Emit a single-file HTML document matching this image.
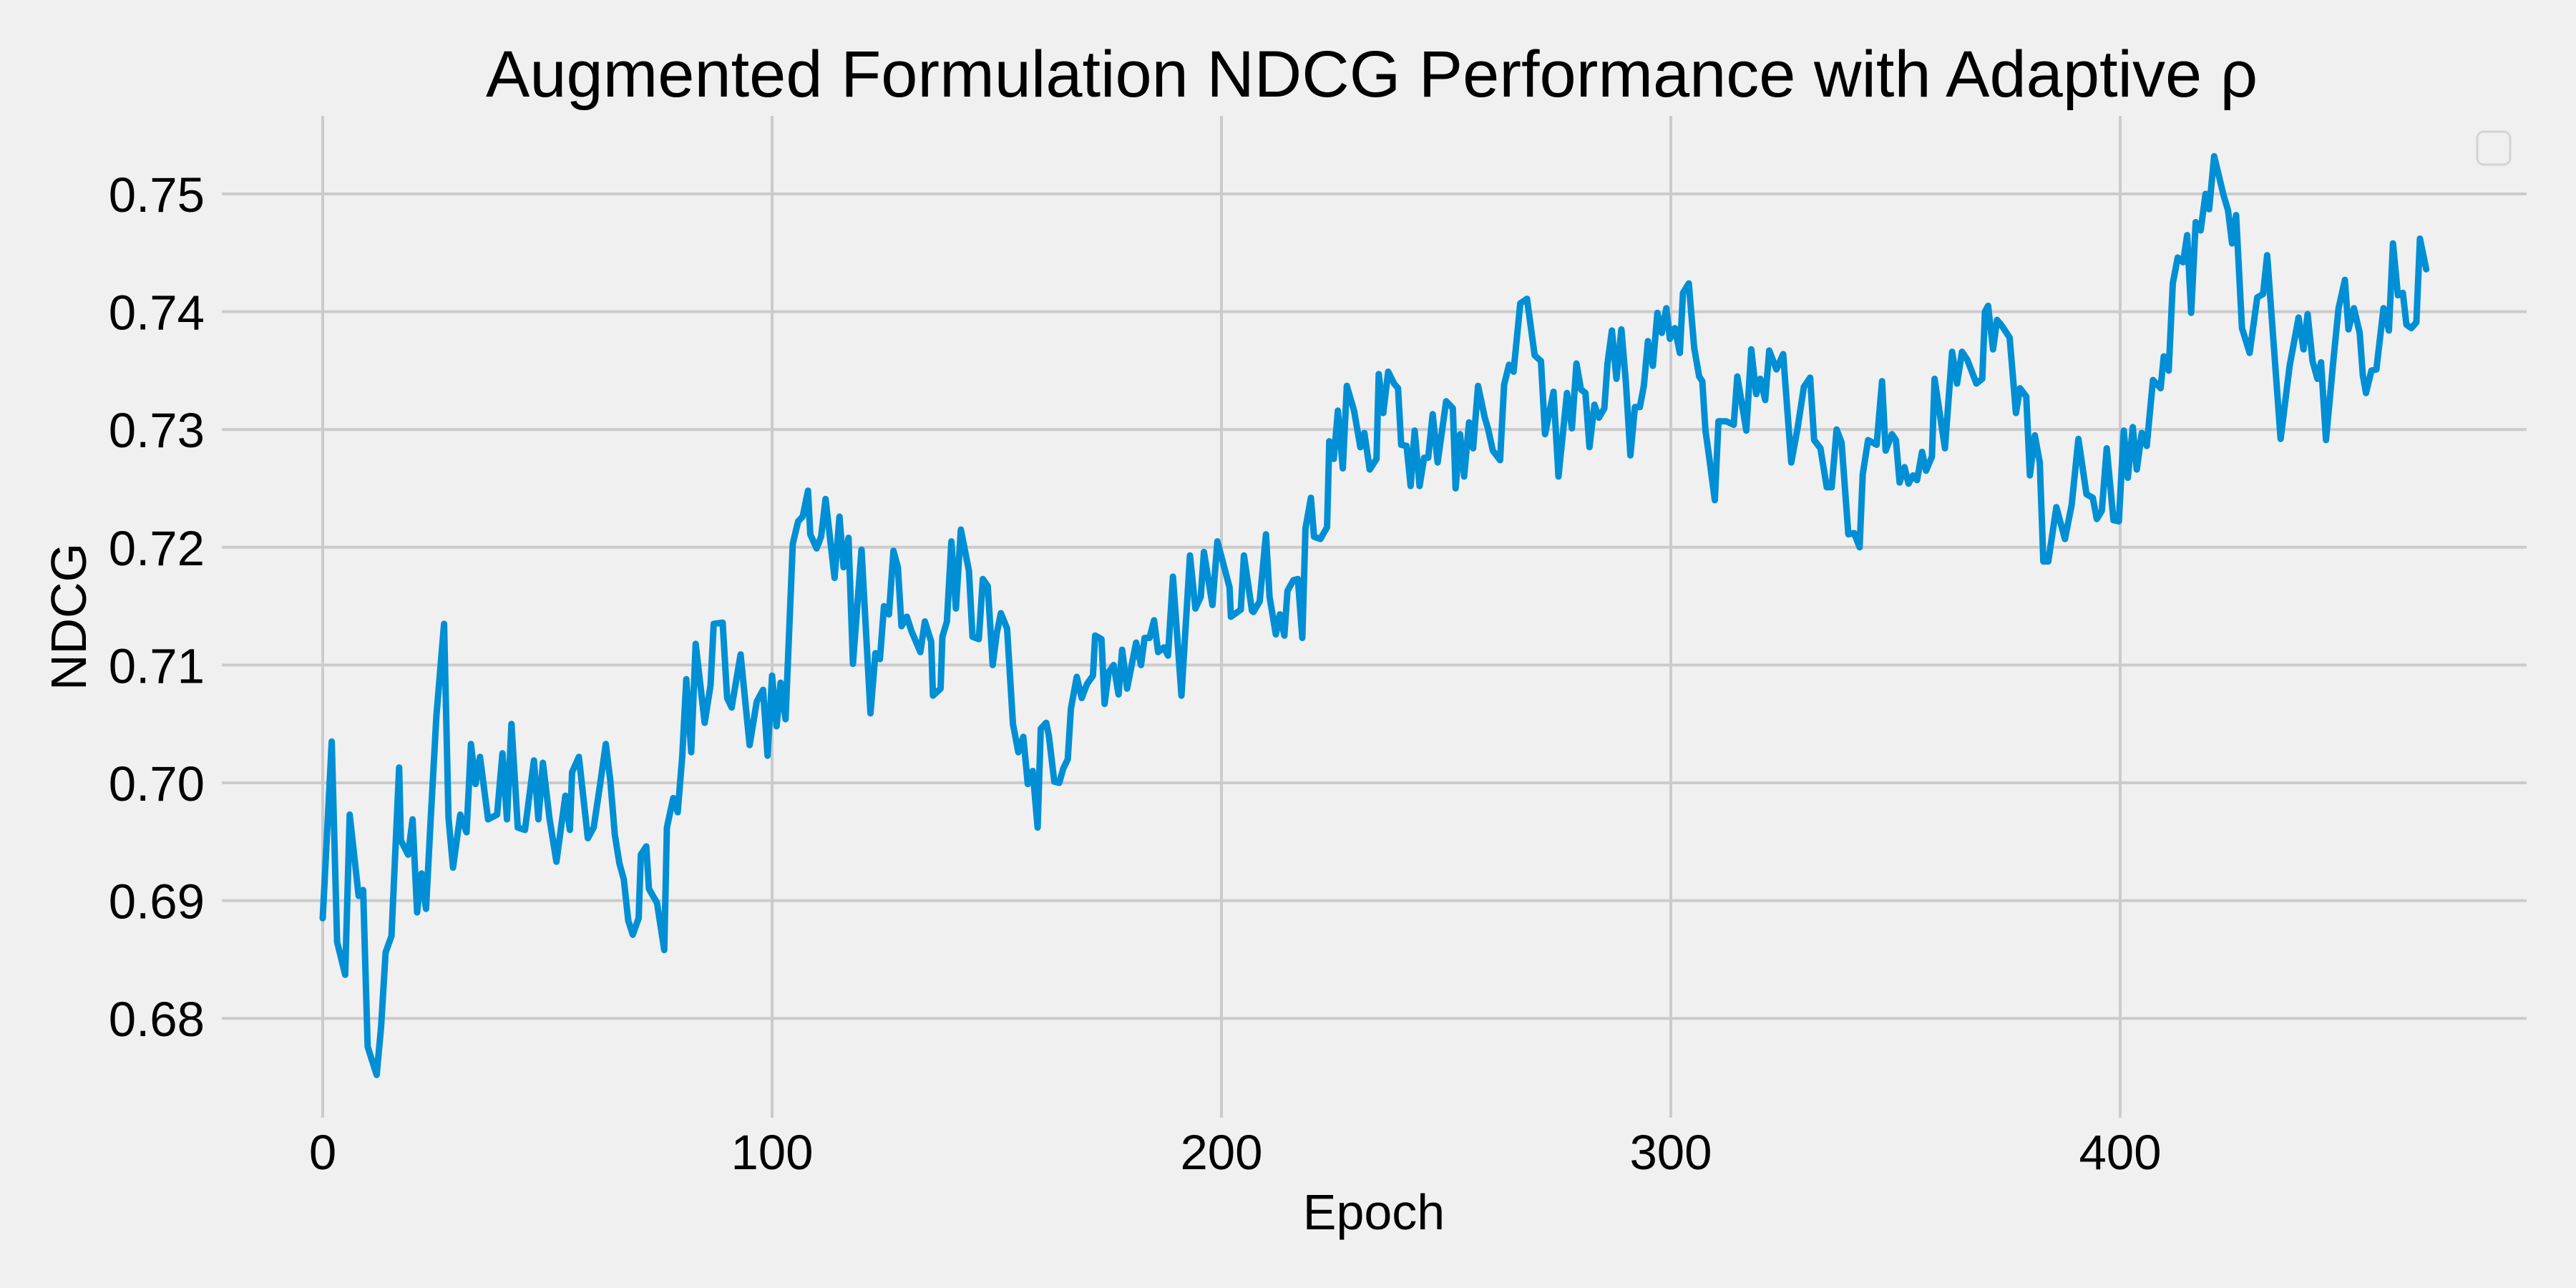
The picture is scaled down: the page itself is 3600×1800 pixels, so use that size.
<!DOCTYPE html>
<html><head><meta charset="utf-8">
<style>
html,body{margin:0;padding:0;background:#f0f0f0;}
svg{display:block;font-family:"Liberation Sans",Arial,sans-serif;}
</style></head>
<body>
<svg id="chart" width="3600" height="1800" viewBox="0 0 3600 1800" xmlns="http://www.w3.org/2000/svg">
<rect x="0" y="0" width="3600" height="1800" fill="#f0f0f0"/>
<g id="grid"></g>
<g id="ticks"></g>
<path id="series" fill="none" stroke="#008fd5" stroke-width="9" stroke-linejoin="round" stroke-linecap="round"/>
<text x="1917" y="135" font-size="92" text-anchor="middle" fill="#000">Augmented Formulation NDCG Performance with Adaptive ρ</text>
<text x="1920" y="1718" font-size="70" text-anchor="middle" fill="#000">Epoch</text>
<text x="0" y="0" font-size="70" text-anchor="middle" fill="#000" transform="translate(120,862) rotate(-90)">NDCG</text>
<rect x="3462" y="184" width="46" height="46" rx="9" fill="#f0f0f0" stroke="#d4d4d4" stroke-width="3"/>
</svg>
<script>
const epochs = [0,2,3.2,5,6,7.5,8,9,10,12,13,14,15.3,17,17.4,19,20,21,22,23,24,25.3,27,28,29,30.6,32,33,34,35,36.8,38.8,40,41,42,43.4,45,47,48,49,50.5,52,54,55,55.5,57,59,60.3,61.7,63,64,65,66,67,68,69,70.3,70.8,72,72.6,74.4,76,76.6,78,79,80,80.9,82,83,85,86.3,87,89,90,91,93,95,96.6,98,99,100,101,101.9,103,104.6,105.8,106.8,108,108.5,109.9,110.9,111.9,113.9,115,115.9,117,118,119.9,121.9,123,124,124.9,126,127,128,128.8,130,131,133,134,135.4,135.8,137.5,137.9,138.9,139.9,140.9,142,143.8,144.6,146,146.9,148,149.1,150,150.9,152.3,153.6,154.8,155.9,156.9,158,159.1,159.8,161,161.6,162.8,163.9,164.8,165.8,166.5,167.8,168.9,170.1,171.4,171.9,173.3,174,174.9,176,177.1,177.9,179,181,182.1,182.9,184,185,185.9,187.2,188.1,189.2,191.1,193,194.2,195.4,196.1,198,199.1,201.8,202.1,204.3,205,206.8,207.1,208.5,209.9,210.7,212.1,213,214,214.7,216,217,218,218.7,219.9,220.6,222,223.5,224,225,225.9,227,227.9,229.5,230.9,231.8,233,234.5,235,236,237.1,238.4,239.3,240,241.2,242.1,243,244.1,245.1,246,247,248.1,250,251.5,252.1,253.1,254,255.1,256,257.1,258.6,259.3,260.4,262,262.9,264,265,266.5,268,269.7,271.1,272,273.9,275,276.9,278,279,280,281,281.9,283,284,285.2,285.9,286.9,287.9,289,290,291,292,293.1,294,294.9,296,297,298,299,299.8,300.9,302,302.7,304,305.2,306.3,307,307.7,308.4,309.8,310.6,312.3,314,314.8,316.8,317.9,319,319.9,321,321.9,323.5,325,326.8,328.2,329.6,331,331.9,333.3,334.7,335.8,336.9,338,339.5,340.8,342,342.7,343.9,345.8,347,347.8,349.2,350.1,350.9,352,352.9,353.9,354.8,355.9,356.8,358.1,358.7,361,362.6,363.7,364.8,366,368,369.3,369.9,370.6,371.7,372.6,373.7,375.4,376.8,377.7,379.1,379.9,381,382.1,382.9,384,385.8,387.7,389.2,390.7,392.5,393.9,394.8,395.9,397,398.5,399.7,400.8,401.7,402.8,403.7,404.8,405.9,407.3,409,409.7,410.8,411.7,412.8,414,414.9,415.8,416.8,417.9,419,419.8,420.9,423,424,424.9,425.8,427.1,428.8,430.5,431.8,432.7,435.7,437.7,439.7,440.8,441.7,442.8,443.9,444.7,445.8,447.5,448.6,450,450.8,452,453.3,454,454.7,455.9,457,458.6,459.8,460.7,461.8,462.9,463.7,464.8,465.9,466.7,468.1];
const ndcgValues = [0.6885,0.7035,0.6865,0.6837,0.6973,0.6921,0.6904,0.6909,0.6776,0.6752,0.6793,0.6856,0.6870,0.7013,0.6951,0.6939,0.6969,0.6890,0.6923,0.6893,0.6967,0.7057,0.7135,0.6970,0.6928,0.6973,0.6958,0.7033,0.6999,0.7022,0.6969,0.6973,0.7025,0.6969,0.7050,0.6962,0.6960,0.7019,0.6969,0.7017,0.6969,0.6933,0.6989,0.6960,0.7009,0.7022,0.6953,0.6962,0.6998,0.7033,0.7002,0.6956,0.6932,0.6918,0.6883,0.6871,0.6885,0.6939,0.6946,0.6910,0.6898,0.6858,0.6962,0.6987,0.6975,0.7022,0.7088,0.7026,0.7118,0.7051,0.7083,0.7135,0.7136,0.7072,0.7064,0.7109,0.7032,0.7069,0.7079,0.7023,0.7091,0.7048,0.7085,0.7054,0.7203,0.7222,0.7226,0.7248,0.7211,0.7199,0.7209,0.7241,0.7174,0.7226,0.7183,0.7208,0.7101,0.7198,0.7059,0.7110,0.7105,0.7150,0.7143,0.7197,0.7183,0.7133,0.7141,0.7129,0.7111,0.7137,0.7120,0.7074,0.7080,0.7124,0.7137,0.7205,0.7148,0.7215,0.7180,0.7124,0.7122,0.7173,0.7167,0.7100,0.7127,0.7144,0.7131,0.7050,0.7026,0.7039,0.6999,0.7010,0.6962,0.7046,0.7051,0.7040,0.7001,0.7000,0.7012,0.7020,0.7063,0.7090,0.7072,0.7084,0.7091,0.7125,0.7122,0.7067,0.7094,0.7100,0.7075,0.7113,0.7080,0.7119,0.7100,0.7123,0.7123,0.7138,0.7111,0.7115,0.7108,0.7175,0.7074,0.7193,0.7148,0.7158,0.7196,0.7151,0.7205,0.7166,0.7141,0.7147,0.7193,0.7146,0.7145,0.7154,0.7211,0.7158,0.7126,0.7143,0.7125,0.7163,0.7172,0.7173,0.7123,0.7216,0.7242,0.7209,0.7207,0.7217,0.7290,0.7275,0.7316,0.7267,0.7337,0.7316,0.7285,0.7297,0.7266,0.7275,0.7347,0.7314,0.7349,0.7339,0.7335,0.7287,0.7286,0.7252,0.7299,0.7252,0.7276,0.7276,0.7313,0.7272,0.7324,0.7318,0.7250,0.7296,0.7260,0.7306,0.7284,0.7337,0.7310,0.7301,0.7282,0.7274,0.7338,0.7355,0.7349,0.7407,0.7411,0.7363,0.7358,0.7296,0.7332,0.7260,0.7331,0.7301,0.7356,0.7334,0.7331,0.7285,0.7321,0.7310,0.7318,0.7356,0.7384,0.7343,0.7385,0.7340,0.7278,0.7319,0.7319,0.7337,0.7375,0.7354,0.7399,0.7382,0.7403,0.7377,0.7386,0.7365,0.7416,0.7424,0.7369,0.7345,0.7341,0.7299,0.7280,0.7240,0.7307,0.7307,0.7304,0.7345,0.7299,0.7368,0.7330,0.7343,0.7325,0.7367,0.7351,0.7364,0.7272,0.7301,0.7336,0.7344,0.7291,0.7284,0.7251,0.7251,0.7300,0.7289,0.7211,0.7212,0.7200,0.7262,0.7291,0.7287,0.7341,0.7282,0.7296,0.7291,0.7255,0.7268,0.7254,0.7261,0.7257,0.7281,0.7265,0.7277,0.7343,0.7284,0.7366,0.7339,0.7366,0.7359,0.7339,0.7343,0.7400,0.7405,0.7368,0.7393,0.7388,0.7378,0.7314,0.7335,0.7328,0.7261,0.7295,0.7272,0.7188,0.7188,0.7234,0.7207,0.7236,0.7292,0.7245,0.7242,0.7224,0.7231,0.7284,0.7223,0.7222,0.7299,0.7259,0.7302,0.7266,0.7297,0.7286,0.7342,0.7335,0.7362,0.7350,0.7424,0.7446,0.7442,0.7465,0.7399,0.7476,0.7469,0.7500,0.7487,0.7532,0.7499,0.7486,0.7458,0.7482,0.7386,0.7365,0.7412,0.7415,0.7448,0.7292,0.7354,0.7395,0.7368,0.7398,0.7358,0.7343,0.7357,0.7291,0.7361,0.7403,0.7427,0.7385,0.7403,0.7382,0.7346,0.7331,0.7350,0.7351,0.7403,0.7384,0.7458,0.7414,0.7416,0.7389,0.7386,0.7391,0.7462,0.7436];
const xTicks = [0,100,200,300,400];
const xTickLabels = ["0","100","200","300","400"];
const yTicks = [0.68,0.69,0.70,0.71,0.72,0.73,0.74,0.75];
const yTickLabels = ["0.68","0.69","0.70","0.71","0.72","0.73","0.74","0.75"];

const NS = "http://www.w3.org/2000/svg";
const X0 = 451, XPER = 6.28;
const Y75 = 271, YPER = 16460;
function xScale(e){ return X0 + e * XPER; }
function yScale(v){ return Y75 + (0.75 - v) * YPER; }
const plotLeft = 310, plotRight = 3531, plotTop = 162, plotBottom = 1562;

const grid = document.getElementById('grid');
const ticks = document.getElementById('ticks');
xTicks.forEach((t, i) => {
  const l = document.createElementNS(NS, 'line');
  l.setAttribute('x1', xScale(t)); l.setAttribute('x2', xScale(t));
  l.setAttribute('y1', plotTop); l.setAttribute('y2', plotBottom);
  l.setAttribute('stroke', '#cbcbcb'); l.setAttribute('stroke-width', '4');
  
  
  grid.appendChild(l);
  const tx = document.createElementNS(NS, 'text');
  tx.setAttribute('x', xScale(t)); tx.setAttribute('y', 1634);
  tx.setAttribute('font-size', '69'); tx.setAttribute('text-anchor', 'middle');
  tx.textContent = xTickLabels[i];
  
  
  ticks.appendChild(tx);
});
yTicks.forEach((t, i) => {
  const l = document.createElementNS(NS, 'line');
  l.setAttribute('x1', plotLeft); l.setAttribute('x2', plotRight);
  l.setAttribute('y1', yScale(t)); l.setAttribute('y2', yScale(t));
  l.setAttribute('stroke', '#cbcbcb'); l.setAttribute('stroke-width', '4');
  
  
  grid.appendChild(l);
  const tx = document.createElementNS(NS, 'text');
  tx.setAttribute('x', 286); tx.setAttribute('y', yScale(t) + 25);
  tx.setAttribute('font-size', '69'); tx.setAttribute('text-anchor', 'end');
  tx.textContent = yTickLabels[i];
  
  
  ticks.appendChild(tx);
});
let d = '';
epochs.forEach((e, i) => {
  d += (i ? 'L' : 'M') + xScale(e).toFixed(1) + ',' + yScale(ndcgValues[i]).toFixed(1);
});
document.getElementById('series').setAttribute('d', d);
</script>
</body></html>
